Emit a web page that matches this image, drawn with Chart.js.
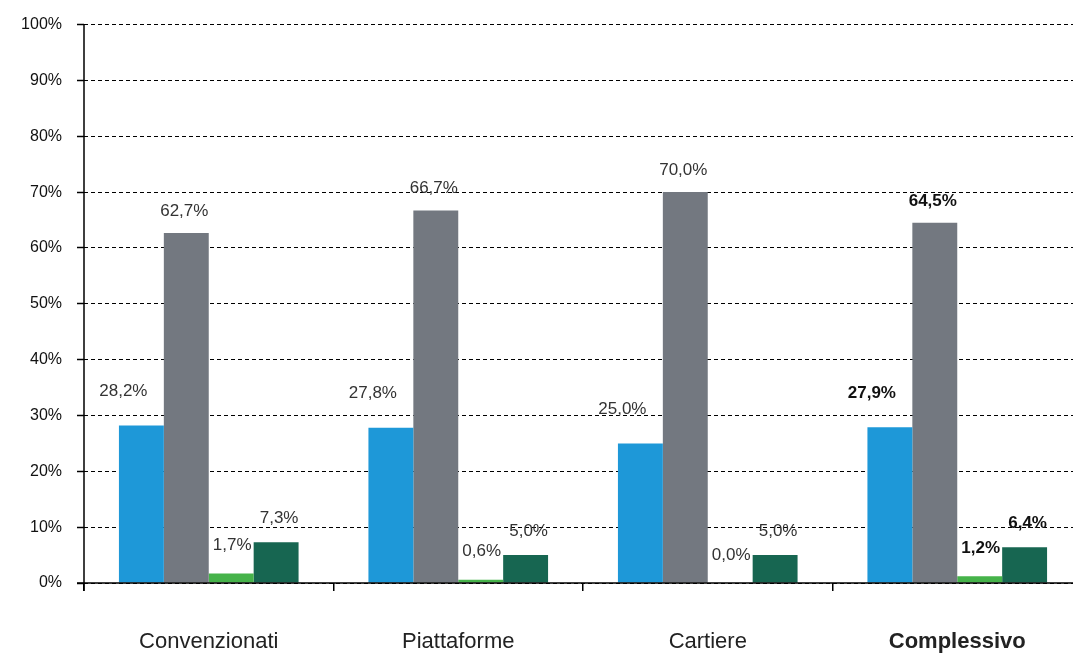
<!DOCTYPE html>
<html>
<head>
<meta charset="utf-8">
<script src="https://cdn.jsdelivr.net/npm/chart.js@4"></script>
<style>
html,body{margin:0;padding:0;background:#fff;overflow:hidden;}
#wrap{width:1082px;height:656px;}
</style>
</head>
<body>
<div id="wrap"><canvas id="c" width="1082" height="656"></canvas></div>
<script>
const categories = ["Convenzionati", "Piattaforme", "Cartiere", "Complessivo"];
const seriesA = [28.2, 27.8, 25.0, 27.9];
const seriesB = [62.7, 66.7, 70.0, 64.5];
const seriesC = [1.7, 0.6, 0.0, 1.2];
const seriesD = [7.3, 5.0, 5.0, 6.4];
const yTicks = [0, 10, 20, 30, 40, 50, 60, 70, 80, 90, 100];

const colors = ["#1E98D8", "#737880", "#46B34A", "#176651"];
const labelLift = [34, 22, 28, 24];
const labelShift = [-18, -2, 1, 3];
const boldIndex = 3;

const labelPlugin = {
  id: "valueLabels",
  afterDatasetsDraw(chart) {
    const ctx = chart.ctx;
    ctx.save();
    ctx.textAlign = "center";
    ctx.textBaseline = "middle";
    chart.data.datasets.forEach((ds, di) => {
      const meta = chart.getDatasetMeta(di);
      meta.data.forEach((bar, i) => {
        const v = ds.data[i];
        ctx.font = (i === boldIndex ? "bold " : "") + "17px 'Liberation Sans', Arial, sans-serif";
        ctx.fillStyle = i === boldIndex ? "#111" : "#333";
        const txt = v.toFixed(1).replace(".", ",") + "%";
        ctx.fillText(txt, bar.x + labelShift[di], bar.y - labelLift[di]);
      });
    });
    ctx.restore();
  }
};

const axisLines = {
  id: "axisLines",
  afterDraw(chart) {
    const ctx = chart.ctx;
    const a = chart.chartArea;
    ctx.save();
    ctx.setLineDash([]);
    ctx.strokeStyle = "#000";
    ctx.lineWidth = 1.5;
    ctx.beginPath();
    ctx.moveTo(a.left, a.top);
    ctx.lineTo(a.left, a.bottom + 8);
    ctx.moveTo(a.left - 7, a.bottom);
    ctx.lineTo(a.right, a.bottom);
    ctx.stroke();
    ctx.restore();
  }
};

new Chart(document.getElementById("c"), {
  type: "bar",
  data: {
    labels: categories,
    datasets: [
      { data: seriesA, backgroundColor: colors[0] },
      { data: seriesB, backgroundColor: colors[1] },
      { data: seriesC, backgroundColor: colors[2] },
      { data: seriesD, backgroundColor: colors[3] }
    ]
  },
  options: {
    responsive: false,
    animation: false,
    devicePixelRatio: 1,
    layout: { padding: { top: 18, right: 0, left: 0, bottom: 0 } },
    datasets: { bar: { barPercentage: 1.0, categoryPercentage: 0.72 } },
    plugins: { legend: { display: false }, tooltip: { enabled: false } },
    scales: {
      x: {
        grid: { drawOnChartArea: false, drawTicks: true, tickLength: 8, color: "#000", lineWidth: 1.5 },
        border: { display: false },
        ticks: {
          padding: 38,
          color: "#222",
          font: (c) => ({ family: "'Liberation Sans', Arial, sans-serif", size: 22, weight: c.index === boldIndex ? "bold" : "normal" })
        },
        afterFit(s) { s.height = 73; }
      },
      y: {
        min: 0, max: 100,
        afterBuildTicks(s) { s.ticks = yTicks.map(v => ({ value: v })); },
        grid: { color: "#000", lineWidth: 1, tickBorderDash: [], tickLength: 7, tickColor: "#000", tickWidth: 1.5 },
        border: { display: false, dash: [4, 3] },
        ticks: {
          padding: 15,
          color: "#111",
          font: { family: "'Liberation Sans', Arial, sans-serif", size: 16 },
          callback: (v) => v + "%"
        },
        afterFit(s) { s.width = 84; }
      }
    }
  },
  plugins: [labelPlugin, axisLines]
});
</script>
</body>
</html>
